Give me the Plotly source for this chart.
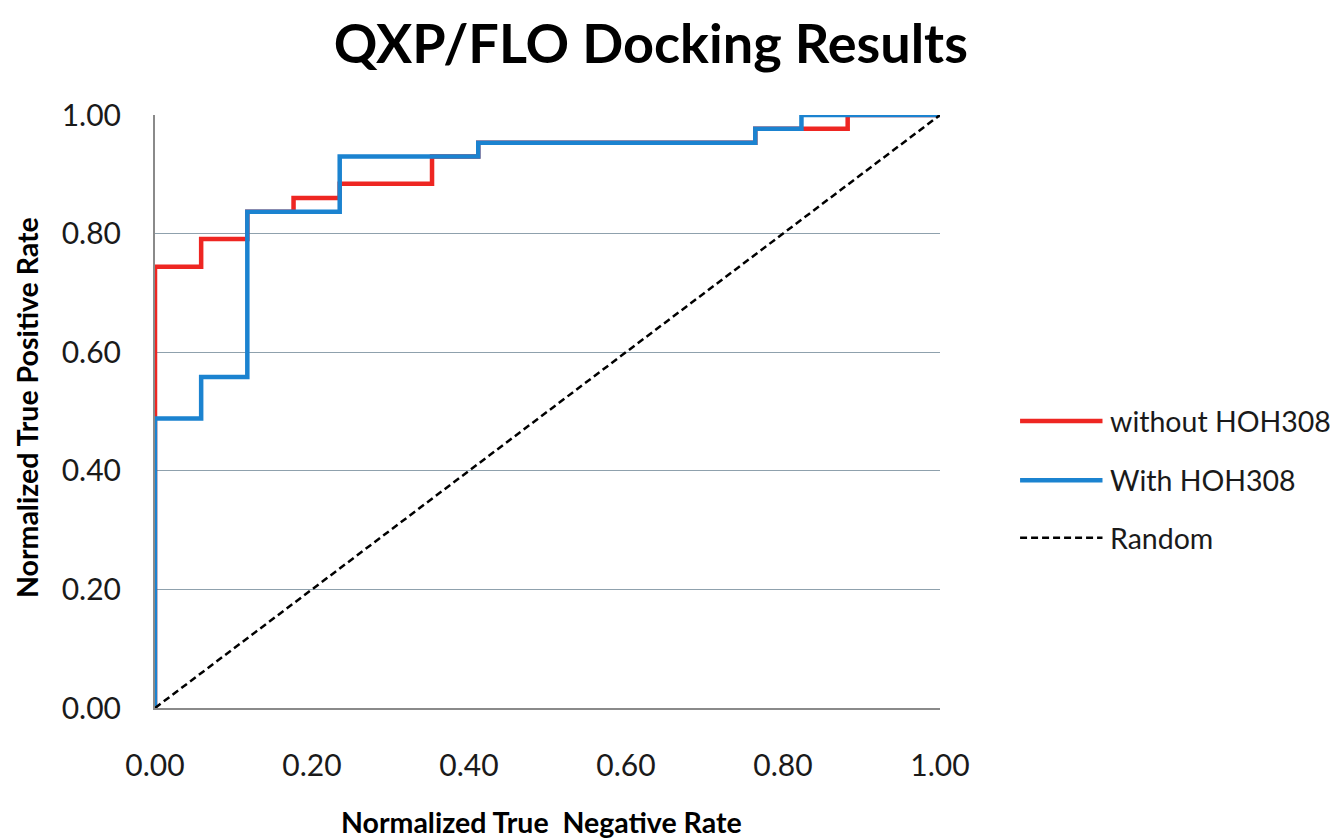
import plotly.graph_objects as go

# Normalized True Negative Rate (x) and Normalized True Positive Rate (y), step ("hv") curves
x_without = [0.0, 0.0, 0.0588, 0.1176, 0.1765, 0.2353, 0.3529, 0.4118, 0.7647, 0.8824, 1.0]
y_without = [0.0, 0.744, 0.791, 0.837, 0.860, 0.884, 0.930, 0.953, 0.977, 1.0, 1.0]

x_with = [0.0, 0.0, 0.0588, 0.1176, 0.2353, 0.4118, 0.7647, 0.8235, 1.0]
y_with = [0.0, 0.488, 0.558, 0.837, 0.930, 0.953, 0.977, 1.0, 1.0]

x_random = [0.0, 1.0]
y_random = [0.0, 1.0]

tick_vals = [0.0, 0.2, 0.4, 0.6, 0.8, 1.0]
tick_text = ["0.00", "0.20", "0.40", "0.60", "0.80", "1.00"]

series_names = ["without HOH308", "With HOH308", "Random"]

FONT = "Lato"
RED = "#ee2622"
BLUE = "#1b83d0"
TXT = "#1a1a1a"

styles = [
    dict(color=RED, width=4.5),
    dict(color=BLUE, width=4.5),
    dict(color="black", width=2.5, dash="7px,4px"),
]

fig = go.Figure()
fig.add_trace(go.Scatter(x=x_without, y=y_without, mode="lines", line_shape="hv",
                         name=series_names[0], line=styles[0]))
fig.add_trace(go.Scatter(x=x_with, y=y_with, mode="lines", line_shape="hv",
                         name=series_names[1], line=styles[1]))
fig.add_trace(go.Scatter(x=x_random, y=y_random, mode="lines",
                         name=series_names[2], line=styles[2]))

# Legend drawn with long line samples (as in the original), placed in paper coordinates
legend_y = [0.484, 0.384, 0.287]
for name, st, ly in zip(series_names, styles, legend_y):
    fig.add_shape(type="line", xref="paper", yref="paper",
                  x0=1.102, x1=1.207, y0=ly, y1=ly, line=st)
    fig.add_annotation(text=name, xref="paper", yref="paper", x=1.214, y=ly,
                       xanchor="left", yanchor="middle", showarrow=False,
                       font=dict(size=28.5, family=FONT, color=TXT))

# Axis titles
fig.add_annotation(text="<b>Normalized True  Negative Rate</b>", xref="paper", yref="paper",
                   x=0.492, y=-0.192, xanchor="center", yanchor="middle", showarrow=False,
                   font=dict(size=28.5, family=FONT, color="black"))
fig.add_annotation(text="<b>Normalized True Positive Rate</b>", xref="paper", yref="paper",
                   x=-0.163, y=0.506, xanchor="center", yanchor="middle", showarrow=False,
                   textangle=-90, font=dict(size=28.5, family=FONT, color="black"))

fig.update_layout(
    width=1342, height=840,
    margin=dict(l=155, r=402, t=115, b=132),
    paper_bgcolor="white", plot_bgcolor="white",
    font=dict(family=FONT, color=TXT),
    title=dict(text="<b>QXP/FLO Docking Results</b>", x=0.485, xanchor="center",
               y=0.947, yanchor="middle", font=dict(size=54, family=FONT, color="black")),
    showlegend=False,
)
fig.update_xaxes(range=[0, 1], tickvals=tick_vals, ticktext=tick_text,
                 showgrid=False, zeroline=False, showline=True, linecolor="#8a8a8a",
                 linewidth=2, ticks="", ticklabelstandoff=30, automargin=False,
                 tickfont=dict(size=30, family=FONT, color=TXT))
fig.update_yaxes(range=[0, 1], tickvals=tick_vals, ticktext=tick_text,
                 showgrid=True, gridcolor="#8fa1ad", gridwidth=1.3,
                 zeroline=False, showline=True, linecolor="#8a8a8a",
                 linewidth=2, ticks="", ticklabelstandoff=26, automargin=False,
                 tickfont=dict(size=30, family=FONT, color=TXT))

fig.write_html("out.html")
